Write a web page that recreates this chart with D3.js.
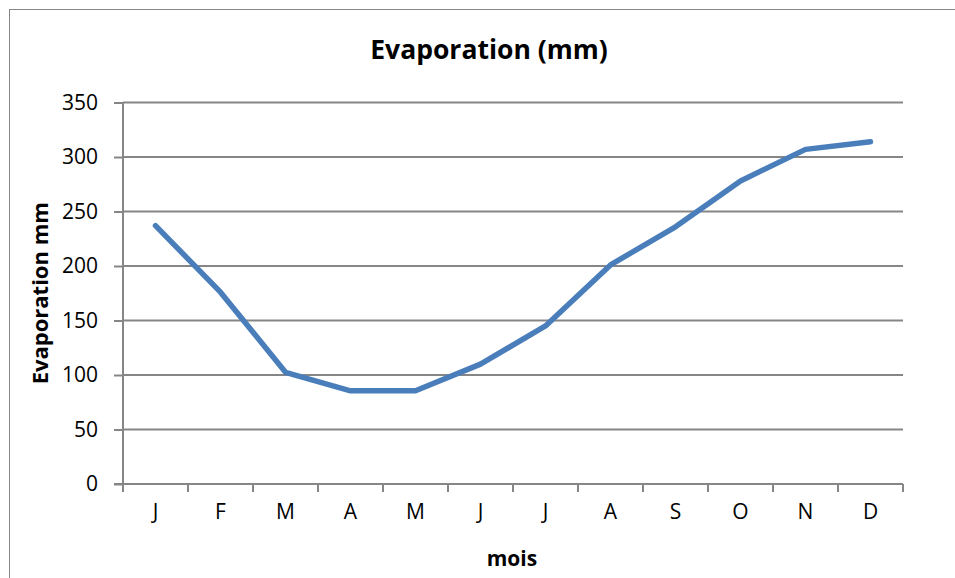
<!DOCTYPE html>
<meta charset="utf-8">
<title>Evaporation (mm)</title>
<style>
  body { margin: 0; background: #fff; }
  text { font-family: "Open Sans", sans-serif; fill: #000; }
</style>
<body>
<script src="https://d3js.org/d3.v7.min.js"></script>
<script>

    // data
    var months = ["J", "F", "M", "A", "M", "J", "J", "A", "S", "O", "N", "D"];
    var evaporation = [237, 176, 102.5, 85.5, 85.5, 110, 145, 201, 236, 278, 307, 314];
    var yTicks = [0, 50, 100, 150, 200, 250, 300, 350];

    var width = 955,
        height = 578;

    var svg = d3.select("body").append("svg")
        .attr("width", width)
        .attr("height", height);

    // outer chart frame (runs off the right and bottom edges)
    svg.append("rect")
        .attr("x", 9.5)
        .attr("y", 9.5)
        .attr("width", 960)
        .attr("height", 600)
        .attr("fill", "none")
        .attr("stroke", "#868686")
        .attr("stroke-width", 1);

    var plotLeft = 123, plotRight = 903, plotTop = 102.5, plotBottom = 484;

    var x = d3.scaleBand()
        .domain(d3.range(months.length))
        .range([plotLeft, plotRight]);

    var y = d3.scaleLinear()
        .domain([0, 350])
        .range([plotBottom, plotTop]);

    // gridlines
    svg.append("g")
        .selectAll("line")
        .data(yTicks.filter(d => d > 0))
        .join("line")
        .attr("x1", plotLeft)
        .attr("x2", plotRight)
        .attr("y1", d => y(d))
        .attr("y2", d => y(d))
        .attr("stroke", "#868686")
        .attr("stroke-width", 2);

    // y axis
    var yAxis = svg.append("g")
        .attr("transform", `translate(${plotLeft},0)`)
        .call(d3.axisLeft(y).tickValues(yTicks).tickSize(9).tickPadding(16));
    yAxis.select(".domain").remove();
    yAxis.append("line")
        .attr("y1", plotTop).attr("y2", plotBottom)
        .attr("stroke", "#868686").attr("stroke-width", 2);
    yAxis.selectAll(".tick line").attr("stroke", "#868686").attr("stroke-width", 2);
    yAxis.selectAll(".tick text")
        .style("font-size", "21px")
        .attr("fill", "#000");

    // x axis
    var xAxis = svg.append("g")
        .attr("transform", `translate(0,${plotBottom})`)
        .call(d3.axisBottom(x).tickFormat(i => months[i]).tickSize(0).tickPadding(20));
    xAxis.select(".domain").remove();
    xAxis.append("line")
        .attr("x1", plotLeft - 9).attr("x2", plotRight)
        .attr("stroke", "#868686").attr("stroke-width", 2);
    xAxis.selectAll(".tick text")
        .style("font-size", "21px")
        .attr("fill", "#000");
    // category boundary ticks
    xAxis.selectAll(".bound")
        .data(d3.range(months.length + 1))
        .join("line")
        .attr("class", "bound")
        .attr("x1", i => i < months.length ? x(i) : plotRight)
        .attr("x2", i => i < months.length ? x(i) : plotRight)
        .attr("y1", 0)
        .attr("y2", 8)
        .attr("stroke", "#868686")
        .attr("stroke-width", 2);

    // the line
    var line = d3.line()
        .x((d, i) => x(i) + x.bandwidth() / 2)
        .y(d => y(d));

    svg.append("path")
        .datum(evaporation)
        .attr("d", line)
        .attr("fill", "none")
        .attr("stroke", "#4a7ebb")
        .attr("stroke-width", 5.5)
        .attr("stroke-linejoin", "round")
        .attr("stroke-linecap", "round");

    // titles
    svg.append("text")
        .attr("x", 489)
        .attr("y", 59)
        .attr("text-anchor", "middle")
        .style("font-size", "26.5px")
        .style("font-weight", "bold")
        .text("Evaporation (mm)");

    svg.append("text")
        .attr("transform", `translate(48,${(plotTop + plotBottom) / 2}) rotate(-90)`)
        .attr("text-anchor", "middle")
        .style("font-size", "22px")
        .style("font-weight", "bold")
        .text("Evaporation mm");

    svg.append("text")
        .attr("x", 512)
        .attr("y", 566)
        .attr("text-anchor", "middle")
        .style("font-size", "21px")
        .style("font-weight", "bold")
        .text("mois");

</script>
</body>
